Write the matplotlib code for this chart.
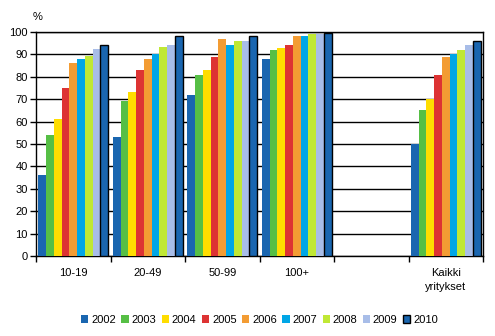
import matplotlib
matplotlib.use("Agg")
from matplotlib import pyplot as plt
import numpy as np

categories = ["10-19", "20-49", "50-99", "100+", "", "Kaikki\nyritykset"]
years = ["2002", "2003", "2004", "2005", "2006", "2007", "2008", "2009", "2010"]

# values per year, one entry per category (empty category has no bars)
v2002 = [36, 53, 72, 88, None, 50]
v2003 = [54, 69, 81, 92, None, 65]
v2004 = [61, 73, 83, 93, None, 70]
v2005 = [75, 83, 89, 94, None, 81]
v2006 = [86, 88, 97, 98, None, 89]
v2007 = [88, 90, 94, 98, None, 90]
v2008 = [89.5, 93.5, 96, 99, None, 92]
v2009 = [92.5, 94, 96, 99, None, 94]
v2010 = [94, 98, 98, 99.7, None, 96]
series = [v2002, v2003, v2004, v2005, v2006, v2007, v2008, v2009, v2010]

colors = ["#1a66b0", "#56bf45", "#ffdd00", "#dd3333", "#f39c33",
          "#00a6e6", "#c0e835", "#a8bde8", "#1a66b0"]

plt.rcParams["font.family"] = "Liberation Sans"
plt.rcParams["font.size"] = 8

fig = plt.figure(figsize=(4.95, 3.36), dpi=100)
ax = fig.add_axes([36/495, 1-256/336, (483-36)/495, (256-32)/336])

n = len(years)
group_w = 0.94
bw = group_w / n
x = np.arange(len(categories))

for i, (yr, vals) in enumerate(zip(years, series)):
    xs = [x[j] - group_w/2 + bw*(i+0.5) for j in range(len(vals)) if vals[j] is not None]
    ys = [v for v in vals if v is not None]
    if yr == "2010":
        ax.bar(xs, ys, width=bw, color=colors[i], edgecolor="black", linewidth=1.0,
               label=yr, zorder=3)
    else:
        ax.bar(xs, ys, width=bw, color=colors[i], linewidth=0, label=yr, zorder=3)

ax.set_xlim(-0.5, len(categories)-0.5)
ax.set_ylim(0, 100)
ax.set_yticks(range(0, 101, 10))
ax.yaxis.grid(True, color="black", linewidth=1.0, zorder=0)
ax.set_axisbelow(True)

ax.set_xticks(np.arange(-0.5, len(categories)), minor=False)
ax.set_xticklabels([])
ax.set_xticks(x, minor=True)
ax.set_xticklabels(categories, minor=True, linespacing=1.4)
ax.tick_params(axis="x", which="minor", length=0, pad=9)
ax.tick_params(axis="x", which="major", length=4, width=1, direction="out")
ax.tick_params(axis="y", length=4, width=1, direction="out", pad=2)

for s in ax.spines.values():
    s.set_color("black")
    s.set_linewidth(1.0)

ax.text(-0.007, 1.045, "%", transform=ax.transAxes, ha="left", va="bottom", fontsize=8)

leg = ax.legend(loc="center", bbox_to_anchor=(0.5, -0.286), ncol=9,
                frameon=False, handlelength=0.65, handleheight=0.65,
                handletextpad=0.25, columnspacing=0.5, fontsize=8)

fig.savefig("out.png", dpi=100)
